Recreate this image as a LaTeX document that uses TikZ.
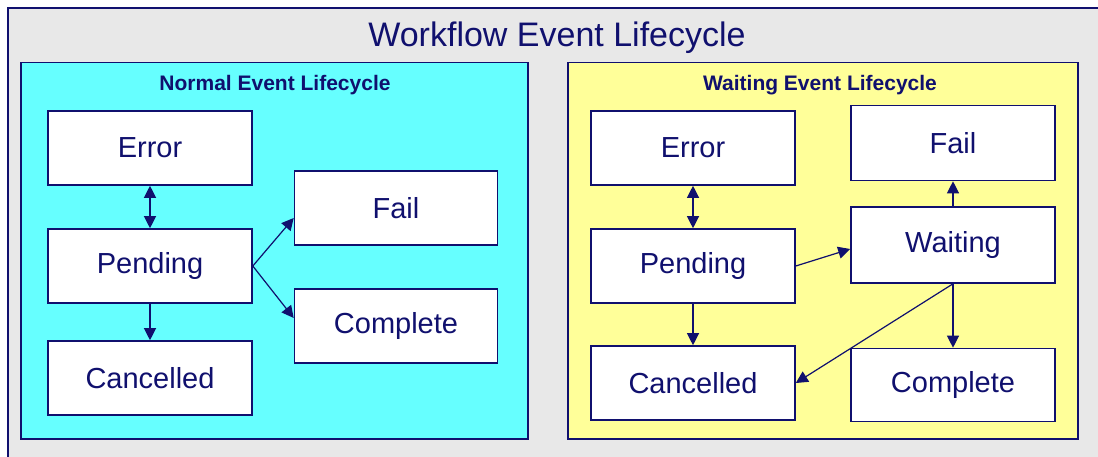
\documentclass[tikz,border=0pt]{standalone}
\usepackage{fontspec}
\setmainfont{Liberation Sans}
\usepackage{tikz}
\usetikzlibrary{arrows.meta,positioning,calc}
\definecolor{navy}{HTML}{10106E}
\definecolor{bggray}{HTML}{E8E8E8}
\definecolor{cyanpanel}{HTML}{66FFFF}
\definecolor{yellowpanel}{HTML}{FFFF99}
\tikzset{
  panel/.style={draw=navy, line width=1.5pt, anchor=north west, inner sep=0pt},
  state/.style={draw=navy, line width=1.6pt, fill=white, text=navy, minimum width=204pt, minimum height=74pt, inner sep=0pt, font=\fontsize{29}{32}\selectfont},
  ttl/.style={text=navy, font=\fontsize{21}{24}\selectfont\bfseries},
  ar/.style={-{Triangle[length=12pt,width=12pt]}, line width=1.2pt, draw=navy},
  dar/.style={{Triangle[length=12pt,width=12pt]}-{Triangle[length=12pt,width=12pt]}, line width=1.2pt, draw=navy},
}
\begin{document}
\begin{tikzpicture}[x=1pt, y=-1pt]
    \useasboundingbox (0,0) rectangle (1098,457);
    \fill[bggray] (8,8) rectangle (1098,457);
    \draw[navy, line width=1.5pt] (8,457) -- (8,8) -- (1098,8);
    \node[text=navy, font=\fontsize{34}{38}\selectfont] (title) at (557,38) {Workflow Event Lifecycle};

    \node[panel, fill=cyanpanel, minimum width=507pt, minimum height=376pt] (normal) at (20,62) {};
    \node[panel, fill=yellowpanel, minimum width=510pt, minimum height=376pt] (waiting) at (567,62) {};
    \node[ttl] (normalttl) at (275,85) {Normal Event Lifecycle};
    \node[ttl] (waitingttl) at (820,85) {Waiting Event Lifecycle};

    \node[state] (nError) at (150,148) {Error};
    \node[state] (nPending) at (150,266) {Pending};
    \node[state] (nCancelled) at (150,378) {Cancelled};
    \node[state, minimum width=203pt] (nFail) at (396,208) {Fail};
    \node[state, minimum width=203pt] (nComplete) at (396,326) {Complete};

    \draw[dar] (nError) -- (nPending);
    \draw[ar] (nPending) -- (nCancelled);
    \draw[ar] (nPending.east) -- ([yshift=-10pt]nFail.west);
    \draw[ar] (nPending.east) -- ([yshift=8pt]nComplete.west);

    \node[state] (wError) at (693,148) {Error};
    \node[state] (wPending) at (693,266) {Pending};
    \node[state] (wCancelled) at (693,383) {Cancelled};
    \node[state, minimum height=75pt] (wFail) at (953,143) {Fail};
    \node[state, minimum height=76pt] (wWaiting) at (953,245) {Waiting};
    \node[state, minimum height=73pt] (wComplete) at (953,385) {Complete};

    \draw[dar] (wError) -- (wPending);
    \draw[ar] (wPending) -- (wCancelled);
    \draw[ar] (wPending.east) -- ([yshift=-4pt]wWaiting.west);
    \draw[ar] (wWaiting) -- (wFail);
    \draw[ar] (wWaiting) -- (wComplete);
    \draw[ar] (wWaiting.south) -- (wCancelled.east);
\end{tikzpicture}
\end{document}
